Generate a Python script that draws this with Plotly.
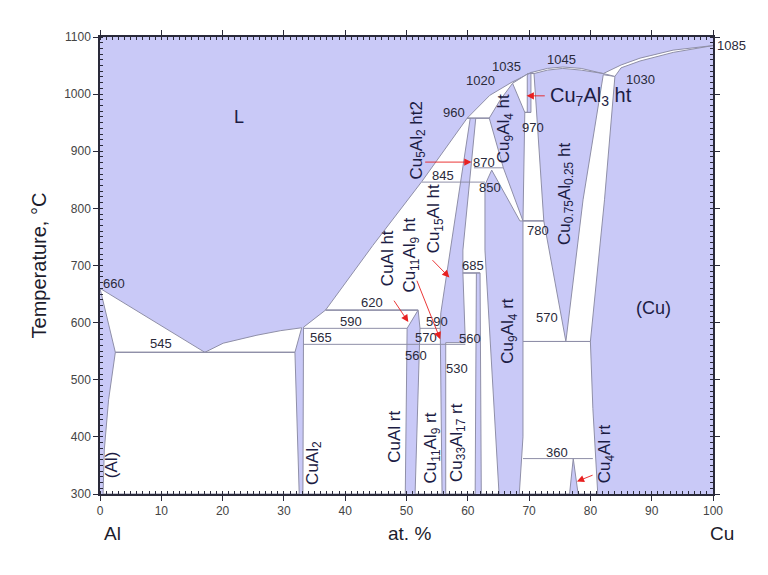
import plotly.graph_objects as go

BLUE = "#c9c9f7"
EDGE = "#8f8fa8"
FONT = "Liberation Sans, Arial, sans-serif"

# ---- two-phase fields (white), vertices (at.% Cu, T °C) ----
L_Al = [(0, 660), (17.1, 548), (2.5, 548)]
L_CuAl2 = [(17.1, 548), (20.1, 564), (25.6, 578), (29.5, 586), (32.9, 591), (31.8, 548)]
Al_CuAl2 = [(2.5, 548), (31.8, 548), (32.5, 300), (0.5, 300), (0.7, 377), (1.4, 465)]
CuAl2_CuAl = [(33.2, 592), (36.8, 622), (51.9, 622), (50.1, 590), (49.8, 300), (33.1, 300)]
L_eps = [(36.8, 622), (44.5, 735), (52.5, 847), (59.9, 958), (60.4, 958), (55.6, 617),
         (55.5, 590), (55.8, 300), (51.4, 300), (52.2, 590), (51.9, 622)]
zeta_delta = [(56.4, 300), (56.4, 565), (59.6, 565), (59.2, 687), (61.4, 687), (61.2, 300)]
eps_gamma = [(61.3, 958), (63.5, 958), (65.8, 871), (69.0, 778), (68.5, 778), (63.9, 867),
             (62.8, 841), (62.8, 727), (65.1, 300), (62.2, 300), (62.0, 687), (59.2, 687), (59.2, 727)]
L_gamma = [(59.9, 958), (63.6, 998), (67.2, 1021), (70.4, 1038), (69.7, 1035), (67.3, 1019),
           (65.3, 990), (63.5, 958)]
gamma_Cu7Al3 = [(67.3, 1019), (69.7, 1035), (69.7, 968), (69.3, 968)]
Cu7Al3_beta = [(70.3, 1037), (70.8, 1036), (72.4, 778), (69.0, 778), (69.3, 968), (70.3, 968)]
gamma_beta = [(69.0, 778), (72.4, 778), (76.0, 567), (69.0, 567)]
beta_Cu = [(82.1, 1034), (84.0, 1031), (82.3, 815), (80.0, 567), (76.0, 567), (78.8, 815)]
gamma_alpha2 = [(69.0, 567), (80.0, 567), (80.4, 450), (81.2, 300), (78.0, 300), (77.3, 362),
                (77.2, 362), (76.6, 300), (68.4, 300), (69.0, 400)]
L_beta = [(70.4, 1038), (73.0, 1045), (75.5, 1047.5), (78.5, 1045), (82.1, 1036),
          (78.5, 1042), (75.5, 1045), (73.0, 1042), (70.8, 1036)]
L_Cu = [(82.1, 1036), (85.0, 1051), (88.1, 1063), (93.5, 1077), (100, 1085),
        (93.5, 1073), (88.1, 1058), (85.0, 1046), (84.0, 1031)]

white_fields = [L_Al, L_CuAl2, Al_CuAl2, CuAl2_CuAl, L_eps, zeta_delta, eps_gamma, L_gamma,
                gamma_Cu7Al3, Cu7Al3_beta, gamma_beta, beta_Cu, gamma_alpha2, L_beta, L_Cu]

# ---- invariant (horizontal) lines: (T, x_start, x_end) ----
invariants = [(548, 2.5, 31.8), (590, 33.2, 50.1), (562, 33.2, 59.6), (622, 36.8, 51.9),
              (590, 52.2, 55.5), (846, 52.5, 62.8), (871, 61.0, 65.8), (958, 59.9, 63.5),
              (687, 59.2, 62.0), (778, 69.0, 72.4), (567, 69.0, 80.0), (362, 69.0, 80.4),
              (968, 69.3, 70.3), (1036, 69.7, 70.8)]

# ---- temperature labels: (text, x, T) ----
num_labels = [("545", 10.0, 564), ("565", 36.0, 574), ("590", 41.0, 602),
              ("620", 44.3, 635), ("590", 55.0, 602), ("570", 53.2, 574), ("560", 51.6, 542),
              ("560", 60.4, 572), ("530", 58.3, 520), ("685", 60.8, 700), ("845", 55.9, 857),
              ("850", 63.7, 836), ("870", 62.6, 881), ("960", 57.8, 968), ("1020", 62.0, 1023),
              ("1035", 66.3, 1048), ("1045", 75.3, 1061), ("1030", 88.2, 1025),
              ("970", 70.6, 941), ("780", 71.4, 762), ("570", 72.9, 609), ("360", 74.5, 373)]
edge_labels = [("660", 0.15, 668, 0), ("1085", 100.0, 1086, 2)]

# ---- phase labels ----
phase_h = [("L", 22.6, 960, 18), ("(Cu)", 90.3, 626, 18)]
phase_v = [("(Al)", 2.0, 351), ("CuAl<sub>2</sub>", 34.8, 355), ("CuAl rt", 48.1, 400),
           ("Cu<sub>11</sub>Al<sub>9</sub> rt", 54.2, 380), ("Cu<sub>33</sub>Al<sub>17</sub> rt", 58.3, 390),
           ("Cu<sub>9</sub>Al<sub>4</sub> rt", 66.8, 585), ("Cu<sub>4</sub>Al rt", 82.6, 370),
           ("Cu<sub>0.75</sub>Al<sub>0.25</sub> ht", 76.0, 825), ("Cu<sub>9</sub>Al<sub>4</sub> ht", 66.2, 940),
           ("Cu<sub>5</sub>Al<sub>2</sub> ht2", 51.8, 918), ("CuAl ht", 46.9, 712),
           ("Cu<sub>11</sub>Al<sub>9</sub> ht", 50.8, 718), ("Cu<sub>15</sub>Al ht", 54.6, 782)]

# ---- red arrows: (tip_x, tip_T, tail_x, tail_T) ----
arrows = [(60.6, 881, 52.8, 881), (69.6, 997, 72.8, 997), (57.0, 679, 54.0, 712),
          (50.3, 601, 47.8, 641), (55.5, 571, 51.6, 676), (77.8, 322, 80.6, 334)]
Cu7Al3_label = ("Cu<sub>7</sub>Al<sub>3</sub> ht", 73.1, 995)

fig = go.Figure()
for poly in white_fields:
    xs = [p[0] for p in poly] + [poly[0][0]]
    ys = [p[1] for p in poly] + [poly[0][1]]
    fig.add_trace(go.Scatter(x=xs, y=ys, mode="lines", fill="toself", fillcolor="white",
                             line=dict(color=EDGE, width=1), hoverinfo="skip", showlegend=False))
for T, x0, x1 in invariants:
    fig.add_trace(go.Scatter(x=[x0, x1], y=[T, T], mode="lines", line=dict(color=EDGE, width=1),
                             hoverinfo="skip", showlegend=False))

NUMF = dict(size=13, color="#2a2a3a", family=FONT)
PHF = dict(size=17, color="#1c1c44", family=FONT)
ann = []
for t, x, y in num_labels:
    ann.append(dict(x=x, y=y, text=t, showarrow=False, font=NUMF))
for t, x, y, sh in edge_labels:
    ann.append(dict(x=x, y=y, text=t, xanchor="left", xshift=sh, showarrow=False, font=NUMF))
for t, x, y, s in phase_h:
    ann.append(dict(x=x, y=y, text=t, showarrow=False, font=dict(size=s, color="#1c1c44", family=FONT)))
for t, x, y in phase_v:
    ann.append(dict(x=x, y=y, text=t, textangle=-90, showarrow=False, font=PHF))
ann.append(dict(x=Cu7Al3_label[1], y=Cu7Al3_label[2], text=Cu7Al3_label[0], xanchor="left",
                showarrow=False, font=dict(size=20, color="#1c1c44", family=FONT)))
for tx, ty, sx, sy in arrows:
    ann.append(dict(x=tx, y=ty, ax=sx, ay=sy, axref="x", ayref="y", xref="x", yref="y", text="",
                    showarrow=True, arrowhead=2, arrowsize=1.6, arrowwidth=0.9, arrowcolor="#e82020"))
BOTF = dict(size=19, color="#1c1c2c", family=FONT)
ann.append(dict(x=0.02, y=-0.058, xref="paper", yref="paper", text="Al", showarrow=False,
                xanchor="center", yanchor="top", font=BOTF))
ann.append(dict(x=1.015, y=-0.058, xref="paper", yref="paper", text="Cu", showarrow=False,
                xanchor="center", yanchor="top", font=BOTF))
ann.append(dict(x=0.505, y=-0.058, xref="paper", yref="paper", text="at. %", showarrow=False,
                xanchor="center", yanchor="top", font=BOTF))

axis_common = dict(showline=True, linecolor="#2a2a3a", linewidth=1.5, mirror="allticks",
                   ticks="outside", ticklen=5, tickcolor="#2a2a3a", showgrid=False, zeroline=False,
                   tickfont=dict(size=12, color="#444", family=FONT))
fig.update_layout(
    width=768, height=575, margin=dict(l=92, r=63, t=29, b=89),
    plot_bgcolor=BLUE, paper_bgcolor="white", annotations=ann,
    xaxis=dict(range=[0, 100], tickvals=list(range(0, 101, 10)),
               minor=dict(dtick=1, ticks="inside", ticklen=3, tickcolor="#2a2a3a"), **axis_common),
    yaxis=dict(range=[300, 1100], tickvals=list(range(300, 1101, 100)),
               title=dict(text="Temperature, °C", font=dict(size=20, color="#1c1c2c", family=FONT), standoff=12),
               minor=dict(dtick=10, ticks="inside", ticklen=3, tickcolor="#2a2a3a"), **axis_common),
)
fig.write_html("out.html")
